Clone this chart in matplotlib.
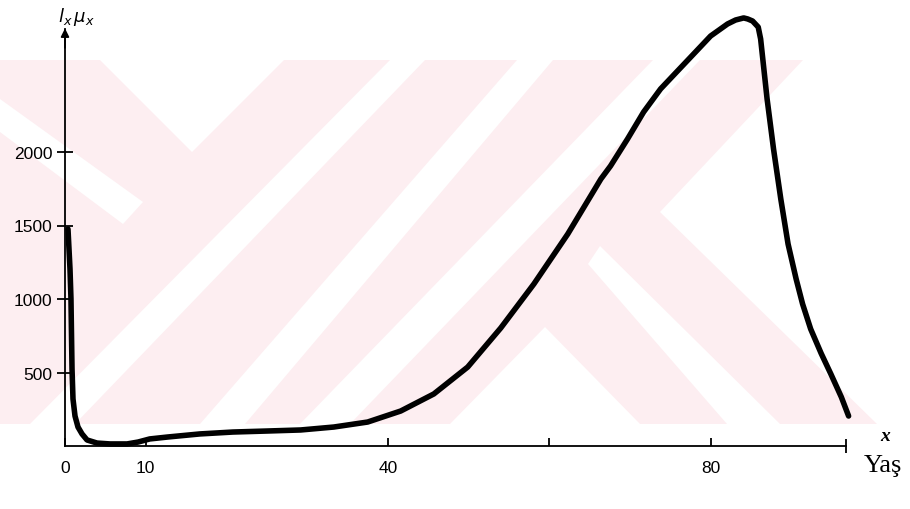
import matplotlib
matplotlib.use("Agg")
import matplotlib.pyplot as plt
from matplotlib.patches import Polygon

# l_x * mu_x against age
ages = [0.37, 0.62, 0.74, 0.87, 0.99, 1.24, 1.61, 2.11, 2.73, 3.97, 5.58,
        7.69, 9.06, 10.5, 12.7, 16.7, 20.8, 25.1, 29.2, 33.3, 37.5, 41.6,
        45.7, 49.9, 54.0, 58.1, 62.3, 66.4, 67.6, 69.7, 71.7, 73.8, 75.9,
        77.9, 80.0, 82.1, 83.1, 84.1, 84.6, 85.2, 85.9, 86.2, 86.6, 87.0,
        87.8, 88.7, 89.6, 90.6, 91.4, 92.4, 93.7, 94.9, 96.2, 97.1]
lx_mux = [1476, 1204, 1000, 524, 320, 204, 129, 82, 41, 20, 14,
          14, 27, 48, 61, 82, 95, 102, 109, 129, 163, 238,
          354, 537, 803, 1102, 1442, 1816, 1905, 2088, 2272, 2429, 2551,
          2667, 2789, 2871, 2898, 2912, 2905, 2891, 2850, 2769, 2565, 2361,
          2020, 1680, 1374, 1136, 966, 796, 630, 490, 333, 204]

x_ticks = [0, 10, 40, 60, 80]
x_tick_labels = ["0", "10", "40", "", "80"]
y_ticks = [500, 1000, 1500, 2000]
x_end = 96.8
y_top = 2840

W, H = 910, 510
fig = plt.figure(figsize=(W / 100, H / 100), dpi=100)

# faint pink watermark behind the chart (pixel coordinates of the page)
bg = fig.add_axes([0, 0, 1, 1])
bg.set_xlim(0, W)
bg.set_ylim(H, 0)
bg.axis("off")
pink = "#fdeef1"
bg.add_patch(Polygon([(0, 61), (W, 61), (W, 425), (0, 425)], color=pink, lw=0))
white_parts = [
    [(100, 61), (284, 61), (192, 153)],
    [(0, 100), (0, 133), (123, 225), (143, 203)],
    [(30, 425), (75, 425), (425, 61), (390, 61)],
    [(200, 425), (245, 425), (553, 61), (517, 61)],
    [(300, 425), (350, 425), (700, 61), (653, 61)],
    [(450, 425), (545, 328), (640, 425)],
    [(588, 265), (600, 247), (780, 425), (727, 425)],
    [(803, 61), (W, 61), (W, 425), (877, 425), (660, 213)],
]
for pts in white_parts:
    bg.add_patch(Polygon(pts, color="white", lw=0))

ax = fig.add_axes([65 / W, 1 - 447 / H, 807 / W, 441 / H])
ax.patch.set_alpha(0)
ax.set_xlim(0, 100)
ax.set_ylim(0, 3000)

ax.plot(ages, lx_mux, color="black", lw=4, solid_capstyle="round",
        solid_joinstyle="round", clip_on=False)

for s in ["top", "right"]:
    ax.spines[s].set_visible(False)
ax.spines["bottom"].set_bounds(0, x_end)
ax.spines["left"].set_bounds(0, y_top)
ax.spines["bottom"].set_linewidth(1.3)
ax.spines["left"].set_linewidth(1.3)
ax.annotate("", xy=(0, y_top + 20), xytext=(0, y_top - 150),
            arrowprops=dict(arrowstyle="-|>", color="black", lw=1.3,
                            mutation_scale=12), annotation_clip=False)

ax.set_xticks(x_ticks)
ax.set_xticklabels(x_tick_labels, fontsize=12.5, family="Liberation Sans")
ax.set_xticks([x_end], minor=True)
ax.set_yticks(y_ticks)
ax.set_yticklabels([str(v) for v in y_ticks], fontsize=12.5,
                   family="Liberation Sans")
ax.tick_params(axis="x", which="major", direction="in", length=6, width=1.3, pad=10)
ax.tick_params(axis="x", which="minor", direction="inout", length=10, width=1.3)
ax.tick_params(axis="y", direction="inout", length=12, width=1.3, pad=3)

ax.text(-0.9, 2925, r"$l_x\,\mu_x$", fontsize=13, ha="left", va="center",
        clip_on=False)
fig.text(885 / W, 1 - 437 / H, "x", fontsize=14, style="italic", weight="bold",
         family="Liberation Serif", ha="center", va="center")
fig.text(883 / W, 1 - 466 / H, "Yaş", fontsize=19, family="Liberation Serif",
         ha="center", va="center")

fig.savefig("out.png", dpi=100)
